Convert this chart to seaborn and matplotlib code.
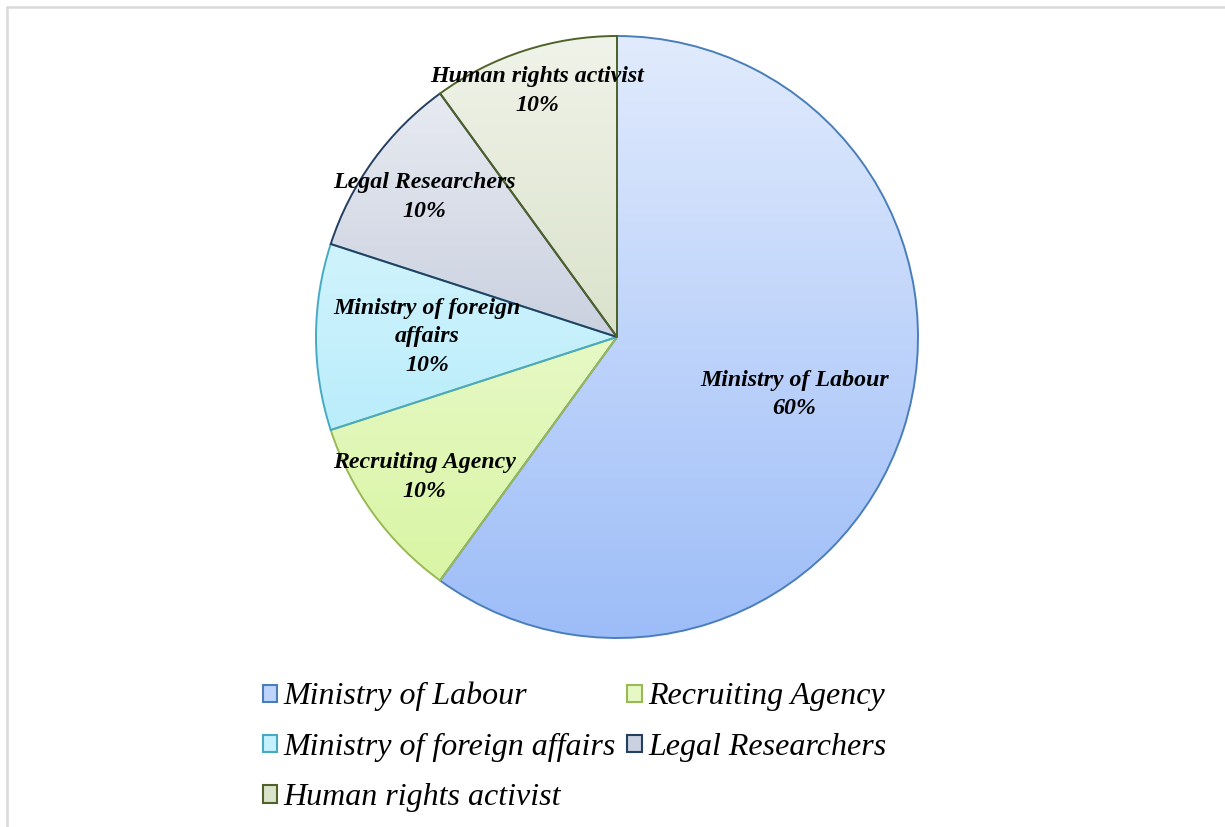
import numpy as np
import matplotlib
matplotlib.use('Agg')
import matplotlib.pyplot as plt
from matplotlib.patches import Rectangle
from matplotlib.lines import Line2D
from matplotlib.colors import to_rgb
import seaborn as sns

sns.set_theme(style="white")
plt.rcParams['font.family'] = ['Liberation Serif', 'DejaVu Serif']

# data
categories = ['Ministry of Labour', 'Recruiting Agency', 'Ministry of foreign affairs',
              'Legal Researchers', 'Human rights activist']
shares = [60, 10, 10, 10, 10]
label_text = ['Ministry of Labour', 'Recruiting Agency', 'Ministry of foreign\naffairs',
              'Legal Researchers', 'Human rights activist']
label_dist = [0.62, 0.79, 0.63, 0.79, 0.86]

# gradient colours top -> bottom, and outlines
top_cols = ['#e1ebfd', '#f6fdee', '#e8fafe', '#eef0f5', '#f0f3e9']
bot_cols = ['#9dbdf8', '#d6f49c', '#a2e6fa', '#a6b2ca', '#c5d1ad']
edge_cols = ['#4a7ebb', '#98b954', '#46aac5', '#243f60', '#4f6228']

fig = plt.figure(figsize=(12.25, 8.27), dpi=100)
ax = fig.add_axes([316 / 1225, 1 - 638 / 827, 602 / 1225, 602 / 827])

wedges, _ = ax.pie(shares, startangle=90, counterclock=False, radius=1,
                   wedgeprops=dict(linewidth=1.4))
ax.set_xlim(-1.0, 1.0)
ax.set_ylim(-1.0, 1.0)
ax.set_aspect('equal')
ax.axis('off')

t = np.linspace(0, 1, 256)[:, None]
for w, tc, bc, ec in zip(wedges, top_cols, bot_cols, edge_cols):
    c0, c1 = np.array(to_rgb(tc)), np.array(to_rgb(bc))
    grad = (c0 * (1 - t) + c1 * t).reshape(256, 1, 3)
    im = ax.imshow(grad, extent=(-1, 1, -1, 1), origin='upper', aspect='auto',
                   interpolation='bilinear', zorder=1)
    im.set_clip_path(w)
    w.set_facecolor('none')
    w.set_edgecolor(ec)
    w.set_zorder(2)

total = sum(shares)
for w, txt, s, d in zip(wedges, label_text, shares, label_dist):
    ang = np.deg2rad((w.theta1 + w.theta2) / 2)
    ax.text(d * np.cos(ang), d * np.sin(ang), f"{txt}\n{round(100 * s / total)}%",
            ha='center', va='center', fontsize=17.2, fontstyle='italic',
            fontweight='bold', color='black', zorder=3, linespacing=1.47)

# legend (row-wise order like the original)
handles = [Rectangle((0, 0), 1, 1, facecolor=(np.array(to_rgb(tc)) + np.array(to_rgb(bc))) / 2,
                     edgecolor=ec, linewidth=1.5)
           for tc, bc, ec in zip(top_cols, bot_cols, edge_cols)]
order = [0, 2, 4, 1, 3]
fig.legend([handles[i] for i in order], [categories[i] for i in order],
           loc='upper left', bbox_to_anchor=(247 / 1225, 1 - 666 / 827), ncol=2,
           frameon=False, prop=dict(size=23, style='italic'), labelcolor='black',
           handlelength=0.45, handleheight=0.45, handletextpad=0.2,
           columnspacing=0.35, labelspacing=0.67, borderpad=0)

# light frame
fig.add_artist(Line2D([6.5 / 1225, 6.5 / 1225], [0, 1 - 6.5 / 827], color='#d9d9d9', lw=1.8))
fig.add_artist(Line2D([6.5 / 1225, 1], [1 - 6.5 / 827, 1 - 6.5 / 827], color='#d9d9d9', lw=1.8))

fig.savefig('out.png', dpi=100, facecolor='white')
